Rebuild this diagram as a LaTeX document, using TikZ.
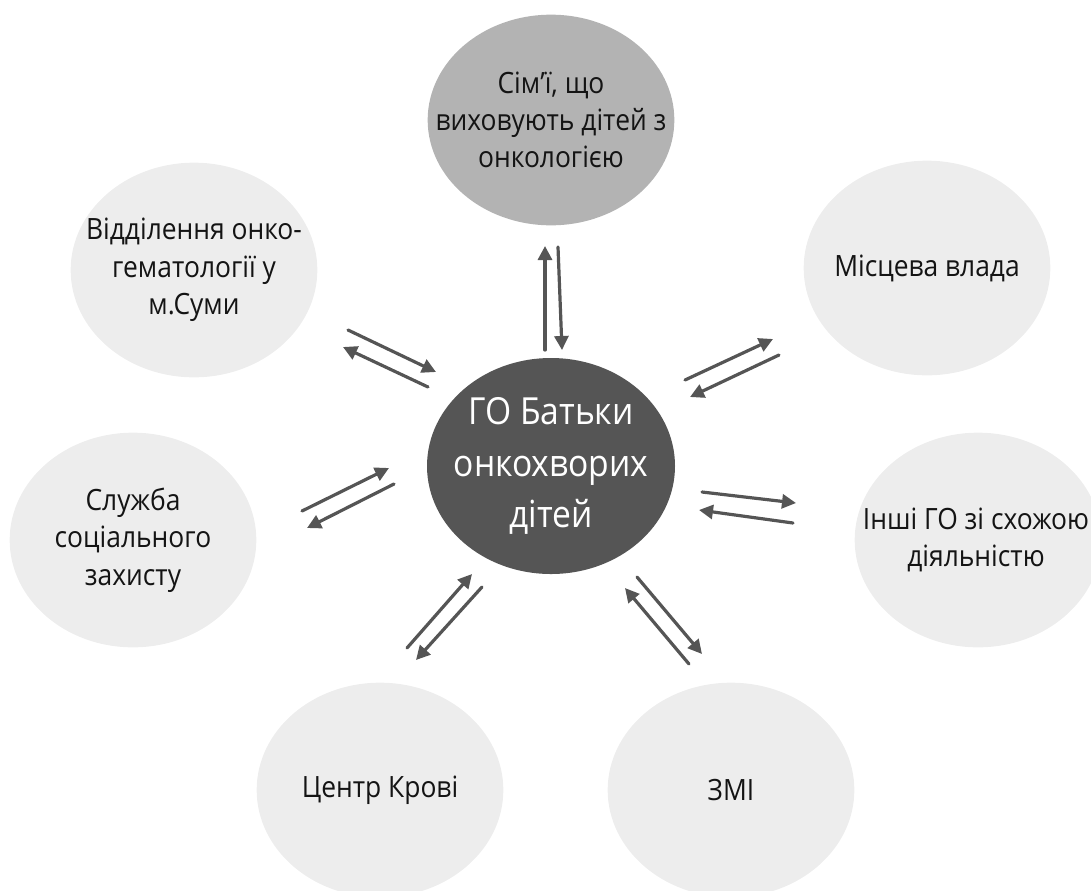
\documentclass[tikz,border=0pt]{standalone}
\usepackage{fontspec}
\setmainfont{Open Sans}[FakeStretch=0.9]
\usetikzlibrary{shapes.geometric,arrows.meta}
\definecolor{darkfill}{HTML}{555555}
\definecolor{midfill}{HTML}{B3B3B3}
\definecolor{lightfill}{HTML}{EDEDED}
\definecolor{arrowcol}{HTML}{555555}
\definecolor{txt}{HTML}{141414}
\begin{document}
\begin{tikzpicture}[x=0.75pt,y=-0.75pt,
  outer/.style={ellipse, draw=none, fill=lightfill, inner sep=0pt,
    minimum width=185pt, minimum height=161pt},
  lbl/.style={align=center, text=txt, font=\fontsize{22}{28}\selectfont},
  clbl/.style={align=center, text=white, font=\fontsize{28}{38.5}\selectfont},
  arr/.style={draw=arrowcol, line width=2.4pt, line cap=round,
    -{Triangle[length=10.5pt,width=10.5pt]}}]
\useasboundingbox (0,0) rectangle (1091,890);

% nodes
\node[outer, fill=midfill, minimum height=158pt,
  label={[lbl]center:{Сім’ї, що\\виховують дітей з\\онкологією}}] (fam) at (551,120) {};
\node[outer, label={[lbl]center:{Відділення онко-\\гематології у\\м.Суми}}] (hosp) at (194,270) {};
\node[outer, label={[lbl]center:{Місцева влада}}] (gov) at (927,268) {};
\node[outer, label={[lbl]center:{Служба\\соціального\\захисту}}] (soc) at (133,540) {};
\node[outer, label={[lbl,xshift=-1.5pt]center:{Інші ГО зі схожою\\діяльністю}}] (ngo) at (978,540) {};
\node[outer, label={[lbl]center:{Центр Крові}}] (blood) at (380,790) {};
\node[outer, label={[lbl]center:{ЗМІ}}] (media) at (731,790) {};
\node[outer, fill=darkfill, minimum width=186pt, minimum height=162pt,
  label={[clbl]center:{ГО Батьки\\онкохворих\\дітей}}] (go) at (551,466) {};

% arrow end points
\coordinate (t1s) at (545,350);   \coordinate (t1e) at (545,246);
\coordinate (t2s) at (558,247);   \coordinate (t2e) at (562,350);
\coordinate (ul1s) at (348,330);  \coordinate (ul1e) at (436,372);
\coordinate (ul2s) at (428,387);  \coordinate (ul2e) at (343,347);
\coordinate (ur1s) at (685,380);  \coordinate (ur1e) at (773,339);
\coordinate (ur2s) at (779,355);  \coordinate (ur2e) at (690,397);
\coordinate (r1s) at (702,492);   \coordinate (r1e) at (796,503);
\coordinate (r2s) at (793,523);   \coordinate (r2e) at (699,510);
\coordinate (l1s) at (302,511);   \coordinate (l1e) at (389,468);
\coordinate (l2s) at (394,484);   \coordinate (l2e) at (307,528);
\coordinate (bl1s) at (407,648);  \coordinate (bl1e) at (472,574);
\coordinate (bl2s) at (482,587);  \coordinate (bl2e) at (416,660);
\coordinate (br1s) at (637,577);  \coordinate (br1e) at (702,654);
\coordinate (br2s) at (689,664);  \coordinate (br2e) at (625,588);

% arrows
\draw[arr] (t1s) -- (t1e);
\draw[arr] (t2s) -- (t2e);
\draw[arr] (ul1s) -- (ul1e);
\draw[arr] (ul2s) -- (ul2e);
\draw[arr] (ur1s) -- (ur1e);
\draw[arr] (ur2s) -- (ur2e);
\draw[arr] (r1s) -- (r1e);
\draw[arr] (r2s) -- (r2e);
\draw[arr] (l1s) -- (l1e);
\draw[arr] (l2s) -- (l2e);
\draw[arr] (bl1s) -- (bl1e);
\draw[arr] (bl2s) -- (bl2e);
\draw[arr] (br1s) -- (br1e);
\draw[arr] (br2s) -- (br2e);
\end{tikzpicture}
\end{document}
